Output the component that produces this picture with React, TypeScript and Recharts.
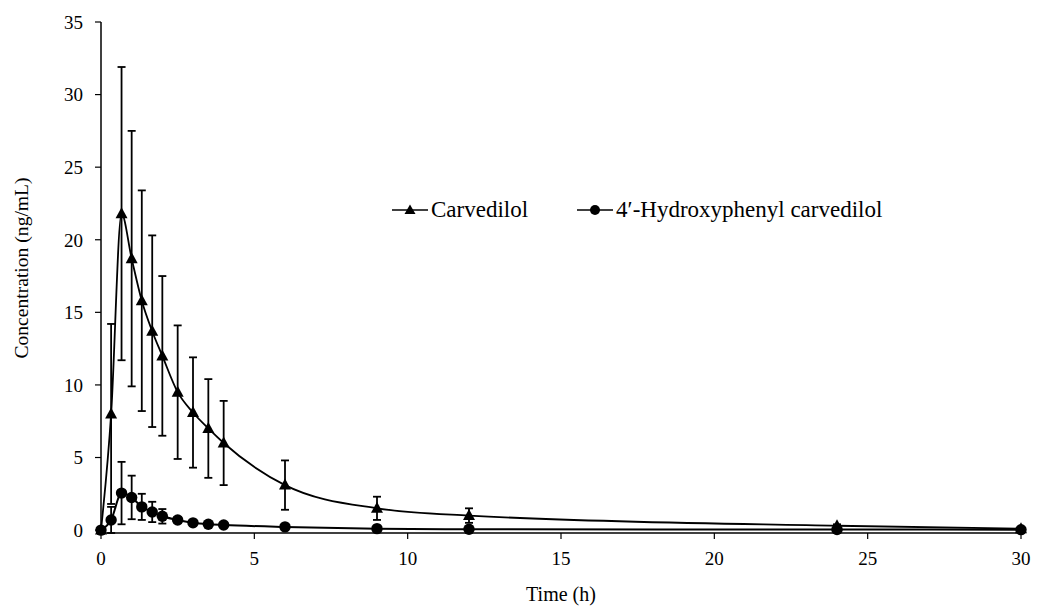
import React from "react";
import { LineChart, Line, XAxis, YAxis, ErrorBar, Legend, Label } from "recharts";

// sampling times (h)
const TIMES = [0, 0.33, 0.67, 1, 1.33, 1.67, 2, 2.5, 3, 3.5, 4, 6, 9, 12, 24, 30];
// mean and SD (ng/mL)
const CARVEDILOL = [0, 8.0, 21.8, 18.7, 15.8, 13.7, 12.0, 9.5, 8.1, 7.0, 6.0, 3.1, 1.5, 1.0, 0.3, 0.1];
const CARVEDILOL_SD = [0, 6.2, 10.1, 8.8, 7.6, 6.6, 5.5, 4.6, 3.8, 3.4, 2.9, 1.7, 0.8, 0.5, 0.1, 0];
const METABOLITE = [0, 0.7, 2.55, 2.25, 1.6, 1.25, 0.95, 0.7, 0.5, 0.4, 0.35, 0.22, 0.1, 0.06, 0.04, 0.03];
const METABOLITE_SD = [0, 0.9, 2.15, 1.5, 0.9, 0.7, 0.5, 0.2, 0.15, 0.1, 0.1, 0.05, 0.03, 0.02, 0.01, 0.01];

const X_TICKS = [0, 5, 10, 15, 20, 25, 30];
const Y_TICKS = [0, 5, 10, 15, 20, 25, 30, 35];

const FONT = "Liberation Serif";

const data = TIMES.map((t, i) => ({
  t,
  carv: CARVEDILOL[i],
  carvSd: CARVEDILOL_SD[i],
  met: METABOLITE[i],
  metSd: METABOLITE_SD[i],
}));

const Triangle = (props: any) => {
  const { cx, cy, key } = props;
  if (cx == null || cy == null) return null;
  return (
    <polygon
      key={key}
      points={`${cx},${cy - 6.5} ${cx - 6},${cy + 4.5} ${cx + 6},${cy + 4.5}`}
      fill="#000"
    />
  );
};

const Circle = (props: any) => {
  const { cx, cy, key } = props;
  if (cx == null || cy == null) return null;
  return <circle key={key} cx={cx} cy={cy} r={5.7} fill="#000" />;
};

const YTitle = () => (
  <text
    transform="translate(21,268) rotate(-90)"
    textAnchor="middle"
    dominantBaseline="central"
    style={{ fontFamily: FONT, fontSize: 19.6, fill: "#000" }}
  >
    Concentration (ng/mL)
  </text>
);

const LegendContent = () => (
  <div style={{ display: "flex", alignItems: "center", fontFamily: FONT, fontSize: 23, color: "#000", whiteSpace: "nowrap" }}>
    <svg width={38} height={16}>
      <line x1={1} y1={8} x2={37} y2={8} stroke="#000" strokeWidth={1.5} />
      <polygon points="19,2.5 13.5,12 24.5,12" fill="#000" />
    </svg>
    <span style={{ marginLeft: 2, marginRight: 48 }}>Carvedilol</span>
    <svg width={38} height={16}>
      <line x1={1} y1={8} x2={37} y2={8} stroke="#000" strokeWidth={1.5} />
      <circle cx={19} cy={8} r={5} fill="#000" />
    </svg>
    <span style={{ marginLeft: 2 }}>4′-Hydroxyphenyl carvedilol</span>
  </div>
);

const tickStyle = { fill: "#000", fontSize: 19, fontFamily: FONT };

export default function App() {
  return (
    <div style={{ position: "absolute", left: 0, top: 0, background: "#fff", fontFamily: FONT }}>
      <LineChart
        width={1038}
        height={606}
        data={data}
        margin={{ top: 22, right: 17, bottom: 0, left: 41 }}
        style={{ fontFamily: FONT }}
      >
        <XAxis
          dataKey="t"
          type="number"
          domain={[0, 30]}
          ticks={X_TICKS}
          interval={0}
          height={73}
          tickSize={6}
          tickMargin={13}
          axisLine={{ stroke: "#000", strokeWidth: 1.5 }}
          tickLine={{ stroke: "#000", strokeWidth: 1.2 }}
          tick={tickStyle}
        >
          <Label
            value="Time (h)"
            position="insideBottom"
            offset={5}
            style={{ fill: "#000", fontSize: 20, fontFamily: FONT }}
          />
        </XAxis>
        <YAxis
          type="number"
          domain={[0, 35]}
          ticks={Y_TICKS}
          interval={0}
          width={60}
          tickSize={6}
          tickMargin={12}
          axisLine={{ stroke: "#000", strokeWidth: 1.5 }}
          tickLine={{ stroke: "#000", strokeWidth: 1.2 }}
          tick={tickStyle}
        >
          <Label content={YTitle} />
        </YAxis>
        <Legend
          layout="horizontal"
          verticalAlign="middle"
          align="center"
          content={LegendContent}
          wrapperStyle={{ top: 197, left: 391, width: "auto" }}
        />
        <Line
          dataKey="met"
          type="monotone"
          stroke="#000"
          strokeWidth={2}
          dot={Circle}
          activeDot={false}
          isAnimationActive={false}
        >
          <ErrorBar dataKey="metSd" width={4} stroke="#000" strokeWidth={1.8} direction="y" />
        </Line>
        <Line
          dataKey="carv"
          type="monotone"
          stroke="#000"
          strokeWidth={1.8}
          dot={Triangle}
          activeDot={false}
          isAnimationActive={false}
        >
          <ErrorBar dataKey="carvSd" width={4} stroke="#000" strokeWidth={1.8} direction="y" />
        </Line>
      </LineChart>
    </div>
  );
}
